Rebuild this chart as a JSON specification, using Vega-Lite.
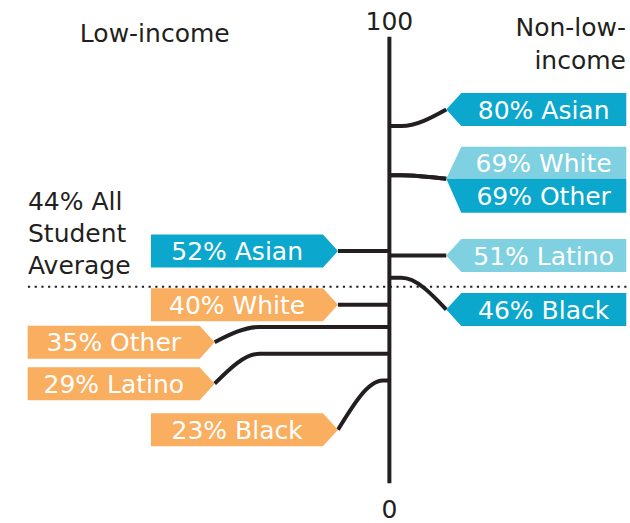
{
  "$schema": "https://vega.github.io/schema/vega-lite/v6.json",
  "width": 630,
  "height": 523,
  "autosize": {"type": "fit", "contains": "padding"},
  "padding": 0,
  "background": "#ffffff",
  "config": {"view": {"stroke": null}, "text": {"font": "DejaVu Sans"}},
  "datasets": {
    "rates": [
      {"income": "Non-low-income", "race": "Asian", "value": 80, "tip": 83.7, "tier": "near", "tag": "single"},
      {"income": "Non-low-income", "race": "White", "value": 69, "tip": 68.2, "tier": "near", "tag": "upper"},
      {"income": "Non-low-income", "race": "Other", "value": 69, "tip": 68.2, "tier": "near", "tag": "lower"},
      {"income": "Non-low-income", "race": "Latino", "value": 51, "tip": 51, "tier": "near", "tag": "single"},
      {"income": "Non-low-income", "race": "Black", "value": 46, "tip": 38.9, "tier": "near", "tag": "single"},
      {"income": "Low-income", "race": "Asian", "value": 52, "tip": 52, "tier": "near", "tag": "single"},
      {"income": "Low-income", "race": "White", "value": 40, "tip": 40, "tier": "near", "tag": "single"},
      {"income": "Low-income", "race": "Other", "value": 35, "tip": 31.6, "tier": "far", "tag": "single"},
      {"income": "Low-income", "race": "Latino", "value": 29, "tip": 22.3, "tier": "far", "tag": "single"},
      {"income": "Low-income", "race": "Black", "value": 23, "tip": 12.0, "tier": "near", "tag": "single"}
    ],
    "average": [{"label": "44% All\nStudent\nAverage", "value": 44}],
    "ticks": [{"tick": 0}, {"tick": 100}],
    "headers": [
      {"income": "Low-income", "title": "Low-income"},
      {"income": "Non-low-income", "title": "Non-low-\nincome"}
    ]
  },
  "layer": [
    {
      "data": {"name": "average"},
      "mark": {"type": "rule", "strokeDash": [2.2, 4.5], "strokeWidth": 2, "color": "#231f20"},
      "encoding": {
        "x": {"datum": -362, "type": "quantitative", "scale": {"domain": [-390, 240], "nice": false, "zero": false}, "axis": null},
        "x2": {"datum": 240},
        "y": {"field": "value", "type": "quantitative", "scale": {"domain": [-8, 108.2222], "nice": false, "zero": false}, "axis": null}
      }
    },
    {
      "data": {"name": "average"},
      "mark": {"type": "text", "align": "left", "baseline": "top", "lineBreak": "\n", "lineHeight": 32, "fontSize": 25, "dy": -97, "color": "#231f20"},
      "encoding": {
        "x": {"datum": -362, "type": "quantitative", "scale": {"domain": [-390, 240], "nice": false, "zero": false}, "axis": null},
        "y": {"field": "value", "type": "quantitative", "scale": {"domain": [-8, 108.2222], "nice": false, "zero": false}, "axis": null},
        "text": {"field": "label"}
      }
    },
    {
      "data": {"name": "rates"},
      "transform": [
        {"calculate": "datum.income === 'Low-income' ? -1 : 1", "as": "side"},
        {"calculate": "datum.side > 0 ? 57 : (datum.tier === 'far' ? -175 : -51.5)", "as": "tipX"},
        {"calculate": "datum.tipX + datum.side * (datum.side > 0 ? 97.5 : 101)", "as": "textX"},
        {"calculate": "datum.value + '% ' + datum.race", "as": "label"}
      ],
      "layer": [
        {
          "transform": [
            {"calculate": "[0, 1, 2]", "as": "step"},
            {"flatten": ["step"]},
            {"calculate": "datum.step === 0 ? 0 : (datum.step === 1 ? datum.tipX - datum.side * 45 : datum.tipX)", "as": "px"},
            {"calculate": "datum.step === 2 ? datum.tip : datum.value", "as": "py"}
          ],
          "mark": {"type": "line", "interpolate": "monotone", "strokeWidth": 4, "color": "#231f20", "strokeCap": "butt"},
          "encoding": {
            "x": {"field": "px", "type": "quantitative", "scale": {"domain": [-390, 240], "nice": false, "zero": false}, "axis": null},
            "y": {"field": "py", "type": "quantitative", "scale": {"domain": [-8, 108.2222], "nice": false, "zero": false}, "axis": null},
            "detail": [{"field": "income"}, {"field": "race"}],
            "order": {"field": "px"}
          }
        },
        {
          "transform": [{"filter": "datum.side < 0"}],
          "mark": {"type": "point", "shape": "M0,0 L-15,-16.5 L-187,-16.5 L-187,16.5 L-15,16.5 Z", "size": 4, "filled": true, "opacity": 1, "strokeWidth": 0},
          "encoding": {
            "x": {"field": "tipX", "type": "quantitative", "scale": {"domain": [-390, 240], "nice": false, "zero": false}, "axis": null},
            "y": {"field": "tip", "type": "quantitative", "scale": {"domain": [-8, 108.2222], "nice": false, "zero": false}, "axis": null},
            "color": {
              "condition": {"test": "datum.value < 44", "value": "#f9ae60"},
              "field": "race", "type": "nominal",
              "scale": {"domain": ["Asian", "White", "Other", "Latino", "Black"], "range": ["#0ba7cc", "#7fd0e0", "#0ba7cc", "#7fd0e0", "#0ba7cc"]},
              "legend": null
            }
          }
        },
        {
          "transform": [{"filter": "datum.side > 0"}],
          "mark": {"type": "point", "size": 4, "filled": true, "opacity": 1, "strokeWidth": 0},
          "encoding": {
            "x": {"field": "tipX", "type": "quantitative", "scale": {"domain": [-390, 240], "nice": false, "zero": false}, "axis": null},
            "y": {"field": "tip", "type": "quantitative", "scale": {"domain": [-8, 108.2222], "nice": false, "zero": false}, "axis": null},
            "shape": {
              "field": "tag", "type": "nominal",
              "scale": {"domain": ["single", "upper", "lower"], "range": ["M0,0 L15,-16.5 L180,-16.5 L180,16.5 L15,16.5 Z", "M0,0 L15,-32 L180,-32 L180,0 Z", "M0,0 L180,0 L180,34 L15,34 Z"]},
              "legend": null
            },
            "color": {
              "condition": {"test": "datum.value < 44", "value": "#f9ae60"},
              "field": "race", "type": "nominal",
              "scale": {"domain": ["Asian", "White", "Other", "Latino", "Black"], "range": ["#0ba7cc", "#7fd0e0", "#0ba7cc", "#7fd0e0", "#0ba7cc"]},
              "legend": null
            }
          }
        },
        {
          "transform": [{"filter": "datum.tag === 'single'"}],
          "mark": {"type": "text", "align": "center", "baseline": "middle", "fontSize": 25, "color": "#ffffff", "dy": 1},
          "encoding": {
            "x": {"field": "textX", "type": "quantitative", "scale": {"domain": [-390, 240], "nice": false, "zero": false}, "axis": null},
            "y": {"field": "tip", "type": "quantitative", "scale": {"domain": [-8, 108.2222], "nice": false, "zero": false}, "axis": null},
            "text": {"field": "label"}
          }
        },
        {
          "transform": [{"filter": "datum.tag === 'upper'"}],
          "mark": {"type": "text", "align": "center", "baseline": "middle", "fontSize": 25, "color": "#ffffff", "dy": -15},
          "encoding": {
            "x": {"field": "textX", "type": "quantitative", "scale": {"domain": [-390, 240], "nice": false, "zero": false}, "axis": null},
            "y": {"field": "tip", "type": "quantitative", "scale": {"domain": [-8, 108.2222], "nice": false, "zero": false}, "axis": null},
            "text": {"field": "label"}
          }
        },
        {
          "transform": [{"filter": "datum.tag === 'lower'"}],
          "mark": {"type": "text", "align": "center", "baseline": "middle", "fontSize": 25, "color": "#ffffff", "dy": 18},
          "encoding": {
            "x": {"field": "textX", "type": "quantitative", "scale": {"domain": [-390, 240], "nice": false, "zero": false}, "axis": null},
            "y": {"field": "tip", "type": "quantitative", "scale": {"domain": [-8, 108.2222], "nice": false, "zero": false}, "axis": null},
            "text": {"field": "label"}
          }
        }
      ]
    },
    {
      "data": {"name": "ticks"},
      "layer": [
        {
          "mark": {"type": "rule", "strokeWidth": 4, "color": "#231f20"},
          "encoding": {
            "x": {"datum": 0, "type": "quantitative", "scale": {"domain": [-390, 240], "nice": false, "zero": false}, "axis": null},
            "y": {"aggregate": "min", "field": "tick", "type": "quantitative", "scale": {"domain": [-8, 108.2222], "nice": false, "zero": false}, "axis": null},
            "y2": {"aggregate": "max", "field": "tick"}
          }
        },
        {
          "transform": [{"filter": "datum.tick === 100"}],
          "mark": {"type": "text", "align": "center", "baseline": "middle", "fontSize": 25, "color": "#231f20", "dy": -15},
          "encoding": {
            "x": {"datum": 0, "type": "quantitative", "scale": {"domain": [-390, 240], "nice": false, "zero": false}, "axis": null},
            "y": {"field": "tick", "type": "quantitative", "scale": {"domain": [-8, 108.2222], "nice": false, "zero": false}, "axis": null},
            "text": {"field": "tick"}
          }
        },
        {
          "transform": [{"filter": "datum.tick === 0"}],
          "mark": {"type": "text", "align": "center", "baseline": "middle", "fontSize": 25, "color": "#231f20", "dy": 27},
          "encoding": {
            "x": {"datum": 0, "type": "quantitative", "scale": {"domain": [-390, 240], "nice": false, "zero": false}, "axis": null},
            "y": {"field": "tick", "type": "quantitative", "scale": {"domain": [-8, 108.2222], "nice": false, "zero": false}, "axis": null},
            "text": {"field": "tick"}
          }
        }
      ]
    },
    {
      "data": {"name": "headers"},
      "layer": [
        {
          "transform": [{"filter": "datum.income === 'Low-income'"}],
          "mark": {"type": "text", "align": "center", "baseline": "middle", "fontSize": 25, "color": "#231f20", "dy": -3},
          "encoding": {
            "x": {"datum": -235, "type": "quantitative", "scale": {"domain": [-390, 240], "nice": false, "zero": false}, "axis": null},
            "y": {"datum": 100, "type": "quantitative", "scale": {"domain": [-8, 108.2222], "nice": false, "zero": false}, "axis": null},
            "text": {"field": "title"}
          }
        },
        {
          "transform": [{"filter": "datum.income === 'Non-low-income'"}],
          "mark": {"type": "text", "align": "right", "baseline": "top", "lineBreak": "\n", "lineHeight": 33, "fontSize": 25, "color": "#231f20", "dy": -21},
          "encoding": {
            "x": {"datum": 237, "type": "quantitative", "scale": {"domain": [-390, 240], "nice": false, "zero": false}, "axis": null},
            "y": {"datum": 100, "type": "quantitative", "scale": {"domain": [-8, 108.2222], "nice": false, "zero": false}, "axis": null},
            "text": {"field": "title"}
          }
        }
      ]
    }
  ]
}
